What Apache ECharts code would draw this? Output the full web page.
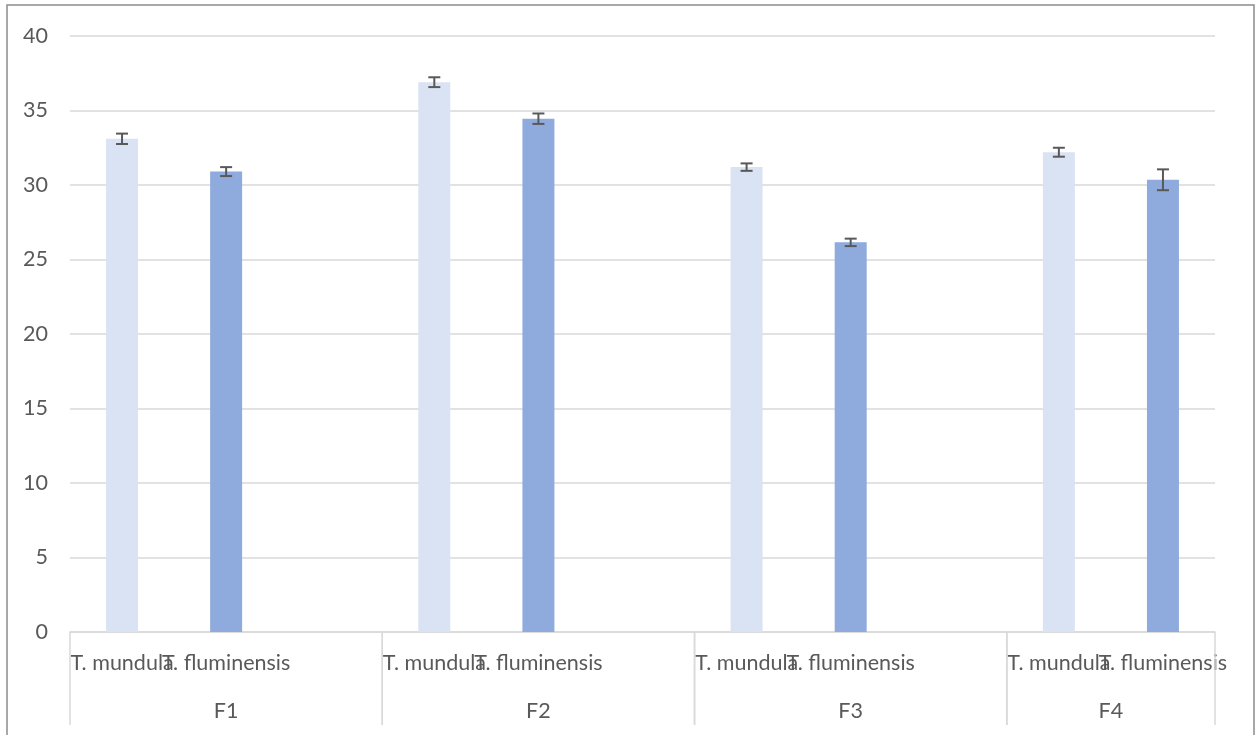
<!DOCTYPE html>
<html><head><meta charset="utf-8">
<script src="https://cdn.jsdelivr.net/npm/echarts@6/dist/echarts.min.js"></script>
<style>html,body{margin:0;padding:0;background:#fff}#c{width:1258px;height:735px}</style>
</head><body><div id="c"></div>
<script>
const groups = ['F1','F2','F3','F4'];
const species = ['T. mundula','T. fluminensis'];
const mundula = [33.1, 36.9, 31.2, 32.2];
const mundulaErr = [0.35, 0.33, 0.25, 0.3];
const fluminensis = [30.9, 34.45, 26.15, 30.35];
const fluminensisErr = [0.3, 0.35, 0.25, 0.7];
const slotsPerGroup = [3, 3, 3, 2];
const yTicks = [0, 5, 10, 15, 20, 25, 30, 35, 40];

// build category slots
const cats = [], mData = [], fData = [], errData = [], groupData = [];
let idx = 0;
groups.forEach((g, gi) => {
  const start = idx;
  for (let s = 0; s < slotsPerGroup[gi]; s++) {
    cats.push(s < 2 ? species[s] : '');
    mData.push(s === 0 ? mundula[gi] : '-');
    fData.push(s === 1 ? fluminensis[gi] : '-');
    if (s === 0) errData.push([idx, mundula[gi], mundulaErr[gi]]);
    if (s === 1) errData.push([idx, fluminensis[gi], fluminensisErr[gi]]);
    idx++;
  }
  groupData.push([start, idx - 1, g]);
});

const txt = '#595959';
const fs = 21.5;
const chart = echarts.init(document.getElementById('c'), null, {renderer: 'canvas'});
chart.setOption({
  animation: false,
  textStyle: {fontFamily: 'Lato'},
  graphic: [{type: 'rect', shape: {x: 7, y: 5, width: 1247, height: 745}, style: {fill: 'none', stroke: '#8c8c8c', lineWidth: 1.5}, z: -1}],
  grid: {left: 70, right: 43, top: 36, bottom: 103},
  xAxis: {
    type: 'category', data: cats,
    axisLine: {lineStyle: {color: '#d9d9d9', width: 1.5}},
    axisTick: {show: false},
    axisLabel: {interval: 0, color: txt, fontSize: fs, fontFamily: 'Lato', margin: 20, hideOverlap: false}
  },
  yAxis: {
    type: 'value', min: yTicks[0], max: yTicks[yTicks.length - 1], interval: 5,
    axisLine: {show: false}, axisTick: {show: false},
    axisLabel: {color: txt, fontSize: fs, fontFamily: 'Lato', margin: 22},
    splitLine: {lineStyle: {color: '#d9d9d9', width: 1.5}}
  },
  series: [
    {type: 'bar', name: species[0], data: mData, barWidth: 32, barGap: '-100%', itemStyle: {color: '#dae3f3'}},
    {type: 'bar', name: species[1], data: fData, barWidth: 32, barGap: '-100%', itemStyle: {color: '#8faadc'}},
    {
      type: 'custom', data: errData, z: 5, clip: false,
      renderItem: (params, api) => {
        const x = api.value(0), v = api.value(1), e = api.value(2);
        const hi = api.coord([x, v + e]), lo = api.coord([x, v - e]);
        const cw = 6;
        const st = {stroke: txt, lineWidth: 2};
        return {type: 'group', children: [
          {type: 'line', shape: {x1: hi[0], y1: hi[1], x2: lo[0], y2: lo[1]}, style: st},
          {type: 'line', shape: {x1: hi[0] - cw, y1: hi[1], x2: hi[0] + cw, y2: hi[1]}, style: st},
          {type: 'line', shape: {x1: lo[0] - cw, y1: lo[1], x2: lo[0] + cw, y2: lo[1]}, style: st}
        ]};
      }
    },
    {
      type: 'custom', data: groupData, clip: false, silent: true,
      renderItem: (params, api) => {
        const s = api.value(0), e = api.value(1);
        const band = api.size([1, 0])[0];
        const ps = api.coord([s, 0]), pe = api.coord([e, 0]);
        const l = ps[0] - band / 2, r = pe[0] + band / 2, y0 = ps[1];
        const st = {stroke: '#d9d9d9', lineWidth: 1.5};
        return {type: 'group', children: [
          {type: 'line', shape: {x1: l, y1: y0, x2: l, y2: y0 + 93}, style: st},
          {type: 'line', shape: {x1: r, y1: y0, x2: r, y2: y0 + 93}, style: st},
          {type: 'text', style: {text: groupData[params.dataIndex][2], x: (l + r) / 2, y: y0 + 79, align: 'center', verticalAlign: 'middle', fill: txt, fontSize: fs, fontFamily: 'Lato'}}
        ]};
      }
    }
  ]
});
</script></body></html>
